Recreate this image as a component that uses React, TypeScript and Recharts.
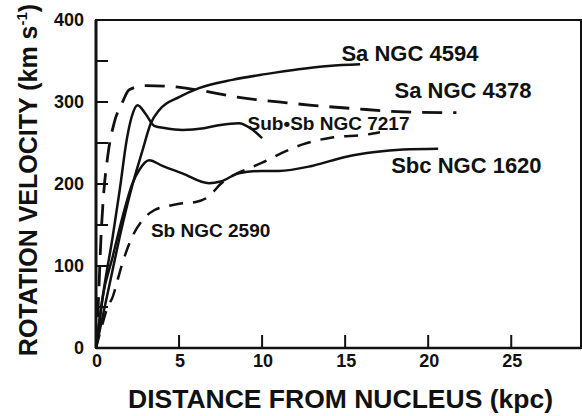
import { Label, Line, LineChart, ReferenceArea, ReferenceDot, XAxis, YAxis } from 'recharts';

const FONT = '"Liberation Sans", Arial, Helvetica, sans-serif';
const INK = '#111';

// radius (kpc) / rotation velocity (km/s)
const sa4594R = [0, 0.5, 1, 1.5, 2.1, 2.8, 3.3, 3.8, 5, 6.2, 8.2, 10.2, 12.2, 14, 15.9];
const sa4594V = [0, 48, 95, 142, 192, 241, 274, 290, 306, 317, 327, 334, 340, 344, 346];

const sa4378R = [0, 0.15, 0.3, 0.45, 0.7, 1.1, 1.6, 2, 3, 4.5, 6, 8.5, 11.5, 13, 15.5, 18.5, 21.7];
const sa4378V = [0, 60, 135, 185, 233, 275, 300, 315, 320, 319, 315, 306, 299, 296, 292, 288, 287];

const sb7217R = [0, 0.5, 1, 1.43, 1.85, 2.15, 2.5, 3, 3.5, 4.2, 5.2, 6.5, 7.5, 8.6, 9.3, 10];
const sb7217V = [0, 75, 135, 193, 254, 282, 296, 285, 271, 268, 266, 268, 272, 274, 268, 256];

const sbc1620R = [0, 0.4, 1, 1.6, 2.2, 2.6, 3.2, 4, 5.2, 6.8, 7.5, 8.6, 10, 11, 13, 15, 16.8, 18.5, 20.6];
const sbc1620V = [0, 62, 111, 160, 201, 217, 229, 222, 213, 201, 203, 213, 216, 216, 222, 233, 239, 242, 243];

const sb2590R = [0, 0.4, 0.7, 1, 1.3, 1.6, 2.1, 2.8, 3.5, 4.3, 5, 6, 6.8, 7.5, 8.3, 9.2, 10, 11.2, 12.4, 14.3, 16.2, 17.1];
const sb2590V = [0, 30, 50, 62, 83, 104, 132, 156, 168, 173, 176, 178, 185, 200, 211, 219, 226, 238, 248, 257, 260, 263];

const xTicks = [0, 5, 10, 15, 20, 25];
const yTicks = [0, 50, 100, 150, 200, 250, 300, 350, 400];

const curveLabels = [
  { text: 'Sa NGC 4594', r: 18.9, v: 360, size: 22 },
  { text: 'Sa NGC 4378', r: 22.1, v: 315, size: 22 },
  { text: 'Sub•Sb NGC 7217', r: 14.0, v: 274, size: 19 },
  { text: 'Sbc NGC 1620', r: 22.3, v: 223, size: 22 },
  { text: 'Sb NGC 2590', r: 6.9, v: 144, size: 19 },
];

const zip = (r: number[], v: number[]) => r.map((x, i) => ({ r: x, v: v[i] }));

const YTick = (props: any) => {
  const { x, y, payload } = props;
  const val = payload.value as number;
  return (
    <g>
      {val > 0 && val < 400 && (
        <line x1={x} x2={x + 12} y1={y} y2={y} stroke={INK} strokeWidth={2} />
      )}
      {val % 100 === 0 && (
        <text x={x - 12} y={y} dy='0.36em' textAnchor='end' fill={INK} fontSize={18} fontWeight={700} fontFamily={FONT}>
          {val}
        </text>
      )}
    </g>
  );
};

const XTick = (props: any) => {
  const { x, y, payload } = props;
  const val = payload.value as number;
  return (
    <g>
      {val > 0 && <line x1={x} x2={x} y1={y} y2={y - 13} stroke={INK} strokeWidth={2} />}
      <text x={x + 1} y={y + 19} textAnchor='middle' fill={INK} fontSize={18} fontWeight={700} fontFamily={FONT}>
        {val}
      </text>
    </g>
  );
};

export default function App() {
  return (
    <div style={{ position: 'absolute', left: 0, top: 0, background: '#fff' }}>
      <LineChart width={582} height={416} margin={{ top: 20, right: 1, bottom: 0, left: 0 }}>
        <ReferenceArea x1={0} x2={29.2} y1={0} y2={400} fill='none' stroke={INK} strokeWidth={2} />
        <XAxis
          type='number'
          dataKey='r'
          domain={[0, 29.2]}
          ticks={xTicks}
          height={68}
          tickSize={0}
          tickMargin={0}
          tickLine={false}
          tick={<XTick />}
          axisLine={{ stroke: INK, strokeWidth: 2.5 }}
          allowDataOverflow
        >
          <Label
            content={({ viewBox }: any) => (
              <text
                x={viewBox.x + viewBox.width / 2 + 2}
                y={viewBox.y + 60}
                textAnchor='middle'
                fill={INK}
                fontSize={26.5}
                fontWeight={700}
                fontFamily={FONT}
              >
                DISTANCE FROM NUCLEUS (kpc)
              </text>
            )}
          />
        </XAxis>
        <YAxis
          type='number'
          dataKey='v'
          domain={[0, 400]}
          ticks={yTicks}
          width={96}
          tickSize={0}
          tickMargin={0}
          tickLine={false}
          tick={<YTick />}
          axisLine={{ stroke: INK, strokeWidth: 3 }}
          allowDataOverflow
        >
          <Label
            content={({ viewBox }: any) => {
              const cx = viewBox.x + 28;
              const cy = viewBox.y + viewBox.height / 2 - 4;
              return (
                <text
                  x={cx}
                  y={cy}
                  dy='0.36em'
                  textAnchor='middle'
                  transform={`rotate(-90 ${cx} ${cy})`}
                  fill={INK}
                  fontSize={25}
                  fontWeight={700}
                  fontFamily={FONT}
                >
                  ROTATION VELOCITY (km s
                  <tspan fontSize={15} dy={-10}>-1</tspan>
                  <tspan dy={10}>)</tspan>
                </text>
              );
            }}
          />
        </YAxis>

        <Line data={zip(sa4594R, sa4594V)} dataKey='v' type='monotone' stroke={INK} strokeWidth={2.5} dot={false} isAnimationActive={false} />
        <Line data={zip(sa4378R, sa4378V)} dataKey='v' type='monotone' stroke={INK} strokeWidth={2.8} strokeDasharray='20 11' dot={false} isAnimationActive={false} />
        <Line data={zip(sb7217R, sb7217V)} dataKey='v' type='monotone' stroke={INK} strokeWidth={2.5} dot={false} isAnimationActive={false} />
        <Line data={zip(sbc1620R, sbc1620V)} dataKey='v' type='monotone' stroke={INK} strokeWidth={2.5} dot={false} isAnimationActive={false} />
        <Line data={zip(sb2590R, sb2590V)} dataKey='v' type='monotone' stroke={INK} strokeWidth={2.5} strokeDasharray='14 10' dot={false} isAnimationActive={false} />

        {curveLabels.map((l) => (
          <ReferenceDot
            key={l.text}
            x={l.r}
            y={l.v}
            r={0}
            fill='none'
            stroke='none'
            label={{ value: l.text, position: 'center', fill: INK, fontSize: l.size, fontWeight: 700, fontFamily: FONT }}
          />
        ))}
      </LineChart>
    </div>
  );
}
